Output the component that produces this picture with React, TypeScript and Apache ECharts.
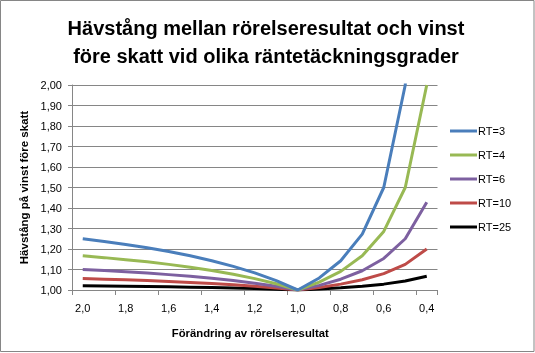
import React, { useEffect, useRef } from "react";
import * as echarts from "echarts";

const categories = ["2,0","1,9","1,8","1,7","1,6","1,5","1,4","1,3","1,2","1,1","1,0","0,9","0,8","0,7","0,6","0,5","0,4"];
const seriesNames = ["RT=3", "RT=4", "RT=6", "RT=10", "RT=25"];
const rt3 = [1.25,1.2368,1.2222,1.2059,1.1875,1.1667,1.1429,1.1154,1.0833,1.0455,1.0,1.0588,1.1429,1.2727,1.5,2.0,4.0];
const rt4 = [1.1667,1.1579,1.1481,1.1373,1.125,1.1111,1.0952,1.0769,1.0556,1.0303,1.0,1.0385,1.0909,1.1667,1.2857,1.5,2.0];
const rt6 = [1.1,1.0947,1.0889,1.0824,1.075,1.0667,1.0571,1.0462,1.0333,1.0182,1.0,1.0227,1.0526,1.0938,1.1538,1.25,1.4286];
const rt10 = [1.0556,1.0526,1.0494,1.0458,1.0417,1.037,1.0317,1.0256,1.0185,1.0101,1.0,1.0125,1.0286,1.05,1.08,1.125,1.2];
const rt25 = [1.0208,1.0197,1.0185,1.0172,1.0156,1.0139,1.0119,1.0096,1.0069,1.0038,1.0,1.0047,1.0105,1.0182,1.0286,1.0435,1.0667];
const colors = ["#4A7EBB", "#98B954", "#7D60A0", "#BE4B48", "#000000"];
const titleText = "Hävstång mellan rörelseresultat och vinst\nföre skatt vid olika räntetäckningsgrader";
const xName = "Förändring av rörelseresultat";
const yName = "Hävstång på vinst före skatt";

export default function App() {
  const ref = useRef<HTMLDivElement>(null);
  useEffect(() => {
    if (!ref.current) return;
    const chart = echarts.init(ref.current, null, { renderer: "svg" });
    const data = [rt3, rt4, rt6, rt10, rt25];
    const font = "'Liberation Sans', Arial, sans-serif";
    chart.setOption({
      animation: false,
      textStyle: { fontFamily: font },
      title: {
        text: titleText,
        left: 261,
        textAlign: "center",
        top: 9,
        textStyle: { fontSize: 20, fontWeight: "bold", color: "#000", lineHeight: 28, fontFamily: font },
      },
      graphic: [
        {
          type: "rect",
          shape: { x: 0.5, y: 0.5, width: 533.5, height: 351 },
          style: { fill: "none", stroke: "#868686", lineWidth: 1 },
          silent: true,
        },
      ],
      legend: {
        orient: "vertical",
        left: 450,
        top: 124,
        padding: 0,
        icon: "rect",
        itemWidth: 27,
        itemHeight: 3,
        itemGap: 10,
        textStyle: { fontSize: 11, color: "#000", fontFamily: font, lineHeight: 14, padding: [0, 0, 0, -4] },
        data: seriesNames,
      },
      grid: { left: 72, right: 97.5, top: 85, bottom: 63 },
      xAxis: {
        type: "category",
        data: categories,
        boundaryGap: true,
        name: xName,
        nameLocation: "middle",
        nameGap: 37,
        nameTextStyle: { fontSize: 11.3, fontWeight: "bold", color: "#000", fontFamily: font, padding: [0, 9, 0, 0] },
        axisLine: { lineStyle: { color: "#868686", width: 1 } },
        axisTick: { show: true, interval: 1, length: 5, lineStyle: { color: "#868686" } },
        axisLabel: { interval: 1, fontSize: 11, color: "#000", margin: 12 },
        splitLine: { show: false },
      },
      yAxis: {
        type: "value",
        min: 1,
        max: 2,
        interval: 0.1,
        name: yName,
        nameLocation: "middle",
        nameGap: 42,
        nameTextStyle: { fontSize: 11.5, fontWeight: "bold", color: "#000", fontFamily: font },
        axisLine: { show: true, lineStyle: { color: "#868686", width: 1 } },
        axisTick: { show: true, length: 4, lineStyle: { color: "#868686" } },
        axisLabel: {
          fontSize: 11,
          color: "#000",
          margin: 10,
          formatter: (v: number) => v.toFixed(2).replace(".", ","),
        },
        splitLine: { show: true, lineStyle: { color: "#868686", width: 1 } },
      },
      series: seriesNames.map((n, i) => ({
        name: n,
        type: "line",
        data: data[i],
        symbol: "none",
        showSymbol: false,
        clip: true,
        color: colors[i],
        lineStyle: { color: colors[i], width: 3 },
        itemStyle: { color: colors[i] },
        z: 10 - i,
      })),
    });
    return () => chart.dispose();
  }, []);
  return <div ref={ref} style={{ position: "fixed", left: 0, top: 0, width: 535, height: 353 }} />;
}
